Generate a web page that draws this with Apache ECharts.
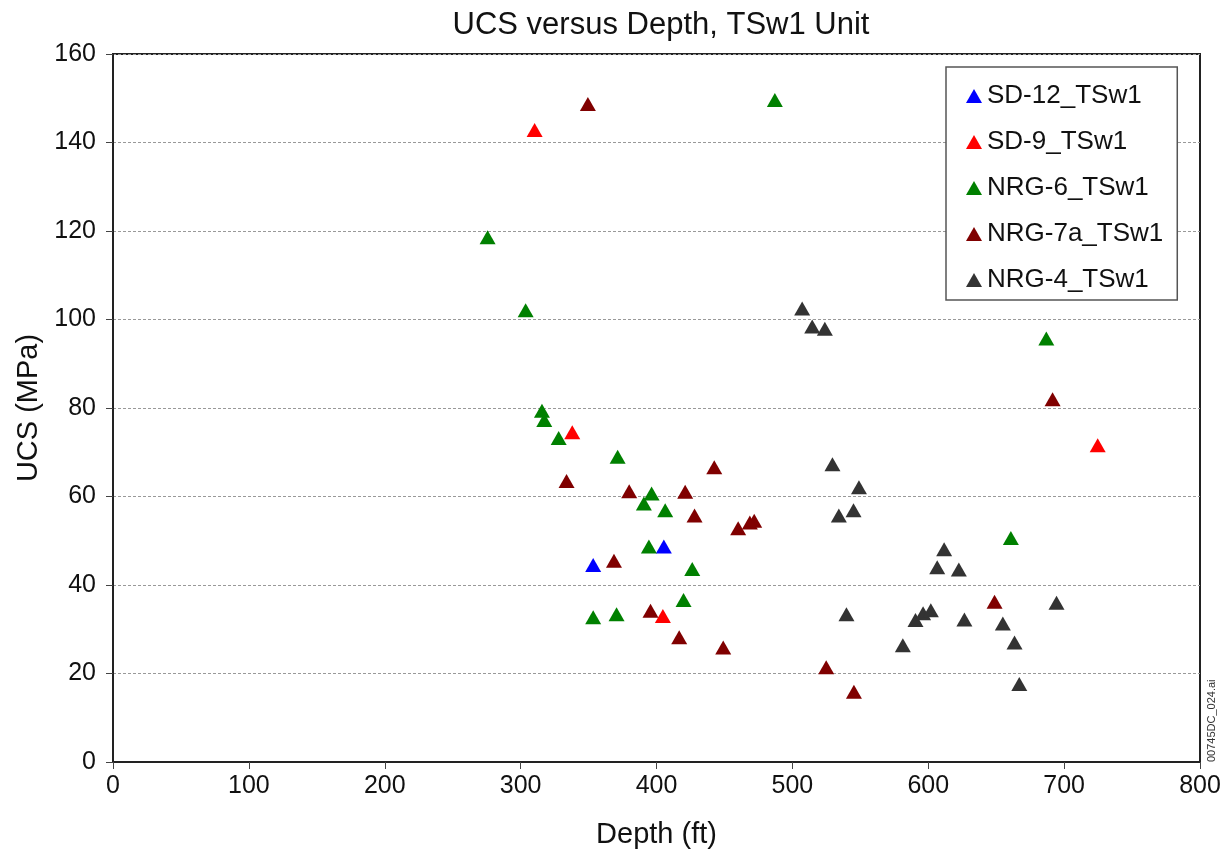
<!DOCTYPE html>
<html>
    <head>
        <meta charset="utf-8">
        <script src="https://cdn.jsdelivr.net/npm/echarts@6/dist/echarts.min.js"></script>
        <style>
            html, body { margin: 0; padding: 0; background: #fff; }
            #chart { width: 1229px; height: 856px; }
        </style>
    </head>
    <body>
        <div id="chart"></div>
        <script>
        // [depth (ft), UCS (MPa)]
        var sd12 = [[353.4, 44.5], [405.4, 48.7]];
        var sd9 = [[310.3, 142.8], [338, 74.5], [404.7, 33.0], [724.7, 71.6]];
        var nrg6 = [
            [275.7, 118.6], [303.7, 102.1], [315.7, 79.4], [317.4, 77.3], [328, 73.2],
            [371.4, 69.0], [353.4, 32.7], [370.6, 33.4], [396.4, 60.7], [390.7, 58.4],
            [406.4, 56.9], [394.4, 48.7], [426.3, 43.6], [419.9, 36.6], [487.1, 149.6],
            [686.9, 95.7], [660.8, 50.6]
        ];
        var nrg7a = [
            [349.5, 148.7], [333.8, 63.5], [368.7, 45.5], [442.5, 66.6], [379.9, 61.2],
            [421.1, 61.1], [428, 55.7], [460.1, 52.8], [468.7, 54.1], [471.9, 54.5],
            [395.6, 34.2], [416.7, 28.2], [449.1, 25.9], [524.9, 21.4], [545.3, 15.9],
            [648.8, 36.2], [691.5, 82.0]
        ];
        var nrg4 = [
            [507.2, 102.5], [514.6, 98.4], [523.9, 97.9], [529.5, 67.3], [549, 62.1],
            [534.2, 55.7], [545, 56.9], [539.8, 33.4], [581.3, 26.4], [590.6, 32.1],
            [596.2, 33.6], [601.9, 34.3], [611.7, 48.1], [606.6, 44.0], [622.5, 43.5],
            [626.6, 32.2], [654.9, 31.3], [663.5, 27.0], [667, 17.6], [694.4, 36.0]
        ];

        var seriesNames = ['SD-12_TSw1', 'SD-9_TSw1', 'NRG-6_TSw1', 'NRG-7a_TSw1', 'NRG-4_TSw1'];
        var seriesData = [sd12, sd9, nrg6, nrg7a, nrg4];
        var seriesColors = ['#0000ff', '#ff0000', '#008000', '#800000', '#333333'];

        var font = 'Liberation Sans, Arial, sans-serif';

        var myChart = echarts.init(document.getElementById('chart'));

        var option = {
            animation: false,
            backgroundColor: '#fff',
            title: {
                text: 'UCS versus Depth, TSw1 Unit',
                left: 656,
                textAlign: 'center',
                top: 5,
                textStyle: {
                    fontFamily: font,
                    fontWeight: 'normal',
                    fontSize: 31,
                    color: '#111'
                }
            },
            legend: {
                orient: 'vertical',
                left: 946,
                top: 67,
                icon: 'triangle',
                itemWidth: 16,
                itemHeight: 14,
                itemGap: 20,
                padding: [16, 14, 7, 20],
                borderColor: '#555',
                borderWidth: 1.5,
                backgroundColor: '#fff',
                textStyle: {
                    fontFamily: font,
                    fontSize: 26,
                    color: '#111'
                },
                data: seriesNames
            },
            grid: {
                left: 113,
                right: 29,
                top: 54,
                bottom: 94,
                show: true,
                borderColor: '#222',
                borderWidth: 2
            },
            xAxis: {
                type: 'value',
                min: 0,
                max: 800,
                interval: 100,
                name: 'Depth (ft)',
                nameLocation: 'middle',
                nameGap: 58,
                nameTextStyle: {
                    fontFamily: font,
                    fontSize: 29,
                    color: '#111'
                },
                axisLine: { lineStyle: { color: '#222', width: 2 } },
                axisTick: { show: true, length: 7, lineStyle: { color: '#444', width: 1 } },
                axisLabel: {
                    margin: 12,
                    fontFamily: font,
                    fontSize: 25,
                    color: '#111'
                },
                splitLine: { show: false }
            },
            yAxis: {
                type: 'value',
                min: 0,
                max: 160,
                interval: 20,
                name: 'UCS (MPa)',
                nameLocation: 'middle',
                nameGap: 68,
                nameTextStyle: {
                    fontFamily: font,
                    fontSize: 29,
                    color: '#111'
                },
                axisLine: { lineStyle: { color: '#222', width: 2 } },
                axisTick: { show: true, length: 7, lineStyle: { color: '#444', width: 1 } },
                axisLabel: {
                    margin: 17,
                    fontFamily: font,
                    fontSize: 25,
                    color: '#111'
                },
                splitLine: {
                    show: true,
                    lineStyle: { color: '#999', type: [3, 2], width: 1 }
                }
            },
            graphic: [{
                type: 'text',
                x: 1212,
                y: 762,
                rotation: Math.PI / 2,
                style: {
                    text: '00745DC_024.ai',
                    fontFamily: font,
                    fontSize: 11,
                    fill: '#333',
                    textAlign: 'left',
                    textVerticalAlign: 'middle'
                }
            }],
            series: seriesNames.map(function (name, i) {
                return {
                    type: 'scatter',
                    name: name,
                    symbol: 'triangle',
                    symbolSize: [16, 14],
                    itemStyle: {
                        color: seriesColors[i],
                        opacity: 1
                    },
                    data: seriesData[i]
                };
            })
        };

        myChart.setOption(option);
        </script>
    </body>
</html>
